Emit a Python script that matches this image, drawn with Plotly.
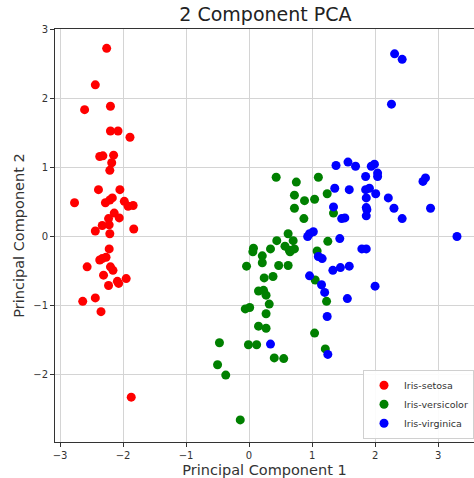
import plotly.graph_objects as go

# Iris-setosa (PC1, PC2)
setosa_pc1 = [-2.26, -2.44, -2.61, -2.20, -2.20, -2.08, -1.89, -2.37, -2.32, -2.15,
              -2.18, -2.21, -2.39, -2.05, -2.77, -2.28, -2.21, -2.17, -1.98, -1.92,
              -1.84, -2.14, -2.23, -2.06, -2.33, -2.22, -2.44, -1.83, -2.21, -2.22,
              -2.37, -2.33, -2.27, -2.57, -2.20, -2.16, -2.31, -2.09, -2.07, -1.95,
              -2.23, -2.44, -2.64, -2.35, -1.87]
setosa_pc2 = [2.73, 2.20, 1.84, 1.89, 1.53, 1.53, 1.44, 1.16, 1.17, 1.18,
              1.07, 0.96, 0.68, 0.68, 0.49, 0.49, 0.53, 0.56, 0.51, 0.44,
              0.45, 0.34, 0.26, 0.27, 0.16, 0.17, 0.08, 0.11, 0.04, -0.18,
              -0.34, -0.32, -0.30, -0.44, -0.44, -0.49, -0.56, -0.65, -0.68, -0.61,
              -0.71, -0.89, -0.94, -1.09, -2.33]

# Iris-versicolor
versicolor_pc1 = [0.43, 0.75, 1.10, 0.72, 0.88, 1.04, 1.24, 0.72, 1.34, 0.87,
                  0.62, 0.44, 0.70, 1.25, 0.57, 0.65, 0.72, 0.34, 0.07, 0.06,
                  0.21, 0.21, -0.04, 0.47, 0.62, 1.08, 0.24, 0.38, 1.05, 0.15,
                  0.23, 0.27, 0.32, 1.23, -0.06, 0.01, 0.27, 0.15, 0.27, 1.04,
                  -0.47, -0.01, 0.12, 1.21, 0.40, 0.55, -0.50, -0.37, -0.14, 0.64]
versicolor_pc2 = [0.86, 0.79, 0.86, 0.60, 0.52, 0.54, 0.62, 0.41, 0.34, 0.26,
                  0.04, -0.06, -0.06, -0.07, -0.14, -0.22, -0.18, -0.18, -0.17, -0.22,
                  -0.28, -0.38, -0.43, -0.42, -0.42, -0.21, -0.60, -0.58, -0.63, -0.79,
                  -0.78, -0.85, -0.98, -0.94, -1.05, -1.03, -1.12, -1.30, -1.33, -1.40,
                  -1.54, -1.57, -1.57, -1.63, -1.76, -1.77, -1.86, -2.01, -2.66, -0.20]

# Iris-virginica
virginica_pc1 = [2.31, 2.43, 2.26, 1.38, 1.57, 1.69, 1.94, 1.99, 1.85, 2.04,
                 2.04, 2.76, 2.80, 1.36, 1.59, 1.85, 1.91, 2.01, 1.86, 2.21,
                 1.34, 1.86, 1.86, 2.30, 2.43, 2.88, 1.47, 1.52, 0.96, 1.02,
                 0.93, 1.44, 3.30, 1.10, 1.16, 1.79, 1.86, 1.33, 1.45, 1.59,
                 0.96, 1.15, 1.20, 2.00, 1.56, 1.24, 0.34, 1.25, 1.87]
virginica_pc2 = [2.65, 2.57, 1.92, 1.03, 1.08, 1.02, 1.02, 1.05, 0.87, 0.92,
                 0.87, 0.80, 0.85, 0.70, 0.68, 0.68, 0.70, 0.62, 0.56, 0.56,
                 0.43, 0.42, 0.30, 0.41, 0.26, 0.41, 0.26, 0.27, 0.04, 0.07,
                 0.00, -0.03, 0.00, -0.29, -0.32, -0.18, -0.18, -0.49, -0.45, -0.43,
                 -0.57, -0.70, -0.81, -0.72, -0.90, -1.16, -1.56, -1.71, 0.39]

series = [
    ("Iris-setosa", setosa_pc1, setosa_pc2, "#ff0000"),
    ("Iris-versicolor", versicolor_pc1, versicolor_pc2, "#008000"),
    ("Iris-virginica", virginica_pc1, virginica_pc2, "#0000ff"),
]

x_ticks = [-3, -2, -1, 0, 1, 2, 3]
y_ticks = [-2, -1, 0, 1, 2, 3]

fig = go.Figure()
for name, xs, ys, col in series:
    fig.add_trace(go.Scatter(
        x=xs, y=ys, mode="markers", name=name,
        marker=dict(color=col, size=9, line=dict(width=0)),
    ))

font_family = "DejaVu Sans"
fig.update_layout(
    width=474, height=478,
    margin=dict(l=55, r=0, t=29, b=36),
    paper_bgcolor="white", plot_bgcolor="white",
    font=dict(family=font_family, color="#333333"),
    title=dict(text="2 Component PCA", x=0.56, xanchor="center", y=0.983, yanchor="top",
               font=dict(size=19, color="#222222", family=font_family)),
    showlegend=True,
    legend=dict(x=1.0, xanchor="right", y=0.008, yanchor="bottom",
                bgcolor="rgba(255,255,255,0.9)", bordercolor="#d0d0d0", borderwidth=1,
                font=dict(size=9.5, color="#333333", family=font_family),
                itemwidth=30, tracegroupgap=0),
)
fig.update_xaxes(
    range=[-3.08, 3.57], tickvals=x_ticks, ticks="outside", ticklen=4, tickwidth=1,
    tickcolor="#333333", tickfont=dict(size=10, color="#333333"),
    showgrid=True, gridcolor="#d4d4d4", gridwidth=1, zeroline=False,
    showline=True, linecolor="#333333", linewidth=1, mirror=True,
    title=dict(text="Principal Component 1", font=dict(size=14.5, color="#333333"), standoff=4),
)
fig.update_yaxes(
    range=[-2.98, 3.01], tickvals=y_ticks, ticks="outside", ticklen=4, tickwidth=1,
    tickcolor="#333333", tickfont=dict(size=10, color="#333333"),
    showgrid=True, gridcolor="#d4d4d4", gridwidth=1, zeroline=False,
    showline=True, linecolor="#333333", linewidth=1,
    title=dict(text="Principal Component 2", font=dict(size=14.5, color="#333333"), standoff=5),
)

fig.write_html("out.html")
